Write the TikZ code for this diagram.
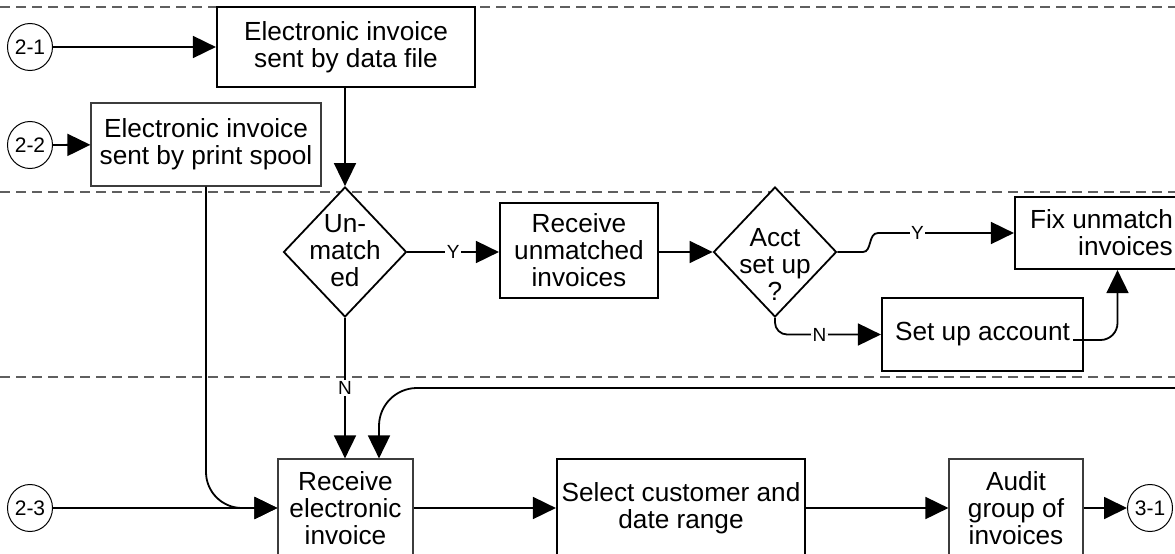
\documentclass[tikz,border=0pt]{standalone}
\usepackage{fontspec}
\setmainfont{Liberation Sans}
\usetikzlibrary{arrows.meta,shapes.geometric}
\definecolor{dgray}{RGB}{95,95,95}
\definecolor{bgray}{RGB}{60,60,60}
\begin{document}
\begin{tikzpicture}[x=1pt,y=-1pt,
  big/.style={font=\fontsize{26.2}{27}\selectfont, align=center},
  thickbox/.style={draw, line width=2.2pt, fill=white, big, inner sep=0pt},
  thinbox/.style={draw=bgray, line width=1.2pt, fill=white, big, inner sep=0pt},
  dia/.style={draw, line width=1.8pt, fill=white, shape=diamond, inner sep=0pt, minimum width=123pt, minimum height=130pt},
  circ/.style={draw, line width=1pt, fill=white, ellipse, minimum width=45pt, minimum height=47pt, inner sep=0pt, font=\fontsize{21}{21}\selectfont},
  lab/.style={fill=white, inner sep=1.5pt, font=\fontsize{19}{19}\selectfont},
  arr/.style={line width=1.8pt, -{Triangle[length=23pt,width=22pt]}},
  laneline/.style={draw=dgray, line width=1.3pt, dash pattern=on 10pt off 6pt}]
\path[use as bounding box] (0,0) rectangle (1175,554);
\clip (0,0) rectangle (1175,554);

% lane separators
\draw[laneline] (0,7) -- (1175,7);
\draw[laneline] (0,192) -- (1175,192);
\draw[laneline] (0,377) -- (1175,377);

% nodes
\node[circ] (c21) at (30,47) {2-1};
\node[thickbox, minimum width=258pt, minimum height=80pt] (b1) at (346,47) {Electronic invoice\\sent by data file};
\node[circ] (c22) at (30,145) {2-2};
\node[thinbox, minimum width=230pt, minimum height=83pt] (b2) at (206,144.5) {Electronic invoice\\sent by print spool};
\node[dia] (d1) at (345,252) {};
\node[big] (d1t) at (345,251) {Un-\\match\\ed};
\node[thickbox, minimum width=158pt, minimum height=95pt] (b3) at (579,250.5) {Receive\\unmatched\\invoices};
\node[dia] (d2) at (775,252) {};
\node[big] (d2t) at (775,264) {Acct\\set up\\?};
\node[thickbox, align=right, minimum width=173pt, minimum height=72pt] (fix) at (1101.5,233) {Fix unmatch\\invoices};
\node[thickbox, minimum width=201pt, minimum height=73pt] (setup) at (982.5,334.5) {Set up account};
\node[thinbox, minimum width=135pt, minimum height=98pt] (b4) at (345.5,508) {Receive\\electronic\\invoice};
\node[circ] (c23) at (30,508) {2-3};
\node[thickbox, minimum width=248pt, minimum height=98pt] (sel) at (681,508) {Select customer and\\date range};
\node[thinbox, minimum width=134pt, minimum height=98pt] (aud) at (1016,508) {Audit\\group of\\invoices};
\node[circ] (c31) at (1150,508) {3-1};
\coordinate (loopin) at (1180,388);

% connectors
\draw[arr] (c21) -- (b1);
\draw[arr] (c22) -- (b2);
\draw[arr] (b1.south -| d1) -- (d1.north);
\draw[arr] (d1.east) -- node[lab]{Y} (d1.east -| b3.west);
\draw[arr] (b3.east |- d2) -- (d2.west);
\draw[arr] (d2.east) -- (863,252) .. controls (872,252) and (868,233) .. (878,233) -- node[lab,pos=0.29]{Y} (fix.west);
\draw[arr, rounded corners=12pt] (d2.south) |- node[lab,pos=0.71]{N} (setup.west);
\draw[arr, rounded corners=17pt] ([xshift=-11pt,yshift=-5.5pt]setup.east) -| ([xshift=16pt]fix.south);
\draw[arr] (d1.south) -- node[lab]{N} (d1.south |- b4.north);
\draw[arr, rounded corners=38pt] (loopin) -| ([xshift=33.5pt]b4.north);
\draw[arr, rounded corners=36pt] (b2.south) |- (b4.west);
\draw[arr] (c23) -- (b4.west);
\draw[arr] (b4.east) -- (sel.west);
\draw[arr] (sel.east) -- (aud.west);
\draw[arr] (aud.east) -- (c31);
\end{tikzpicture}
\end{document}
